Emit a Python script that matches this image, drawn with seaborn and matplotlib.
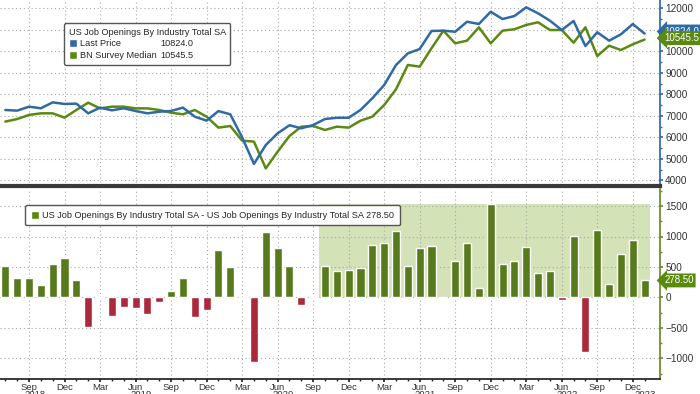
import numpy as np
import pandas as pd
import matplotlib
matplotlib.use("Agg")
import matplotlib.pyplot as plt
import seaborn as sns
from matplotlib.patches import Patch
from matplotlib.ticker import MultipleLocator

# monthly data, Jul 2018 .. Jan 2023
months = pd.date_range("2018-07-01", "2023-01-01", freq="MS")

last_price = [7270, 7240, 7425, 7350, 7625, 7550, 7565, 7115, 7380, 7255,
              7350, 7225, 7115, 7190, 7225, 7380, 6960, 6775, 7220, 7070,
              6000, 4760, 5640, 6185, 6560, 6420, 6570, 6850, 6910, 6910,
              7270, 7815, 8430, 9360, 9905, 10105, 10945, 10960, 10910, 11375,
              11270, 11840, 11500, 11640, 12045, 11765, 11425, 10990, 11410, 10245,
              10885, 10495, 10790, 11270, 10824.0]

survey_median = [6730, 6850, 7040, 7115, 7115, 6915, 7270, 7610, 7345, 7425,
                 7425, 7345, 7345, 7270, 7145, 7070, 7270, 6960, 6450, 6525,
                 5845, 5800, 4555, 5330, 6060, 6495, 6525, 6340, 6495, 6450,
                 6770, 6960, 7500, 8235, 9365, 9285, 10140, 10960, 10370, 10495,
                 11115, 10370, 10960, 11025, 11225, 11350, 10990, 10990, 10400, 11115,
                 9780, 10260, 10060, 10325, 10545.5]

surprise = [514, 312, 323, 208, 542, 646, 290, -482, -8, -306,
            -159, -181, -279, -77, 99, 312, -328, -213, 783, 493,
            6, -1062, 1078, 815, 514, -131, 20, 514, 427, 449,
            476, 859, 898, 1089, 514, 805, 843, 6, 591, 898,
            153, 1527, 542, 602, 832, 405, 438, -44, 1012, -898,
            1106, 219, 706, 936, 278.5]

shade_start = "2020-10-01"
shade_end = "2023-01-01"

series_name = "US Job Openings By Industry Total SA"

BLUE = "#2f6aa6"
GREEN = "#5b8a12"
BAR_GREEN = "#5a8a0c"
RED = "#c0142c"
SHADE = "#d3e2b7"
GRID = "#a8a8a8"
TXT = "#333333"
NARROW = ["Liberation Sans Narrow", "Liberation Sans", "DejaVu Sans"]

sns.set_theme(style="white")
plt.rcParams["font.family"] = ["Liberation Sans", "DejaVu Sans"]

idx = np.arange(len(months))
month_lab = months.strftime("%b")
qtr = [i for i, m in enumerate(months) if m.month in (3, 6, 9, 12)]

fig = plt.figure(figsize=(7, 3.94), dpi=100)
ax1 = fig.add_axes([0, 1 - 186 / 394, 660 / 700, 186 / 394])
ax2 = fig.add_axes([0, 15 / 394, 660 / 700, 190 / 394])

# ---- top panel: lines
sns.lineplot(x=idx, y=survey_median, ax=ax1, color=GREEN, lw=1.8)
sns.lineplot(x=idx, y=last_price, ax=ax1, color=BLUE, lw=1.8)
ax1.set_xlim(-0.45, len(idx) + 0.3)
ax1.set_ylim(3735, 12386)
ax1.yaxis.tick_right()
ax1.set_yticks(range(4000, 12001, 1000))
ax1.yaxis.set_minor_locator(MultipleLocator(500))
ax1.set_xticks(qtr)
ax1.tick_params(axis="x", length=0, labelbottom=False)
ax1.tick_params(axis="y", which="major", length=2.2, color=BLUE, labelsize=7.2, labelcolor=TXT, pad=1.5)
ax1.tick_params(axis="y", which="minor", length=1.2, color=BLUE, right=True)
for lab in ax1.get_yticklabels():
    lab.set_fontfamily(NARROW)
ax1.grid(True, color=GRID, linestyle=(0, (1, 2.5)), lw=0.8)
for s in ["left", "top"]:
    ax1.spines[s].set_visible(False)
ax1.spines["right"].set_color(BLUE)
ax1.spines["bottom"].set_color("#3a3a3a")
ax1.spines["bottom"].set_linewidth(3)
ax1.set_xlabel("")
ax1.set_ylabel("")

blank = Patch(fc="none", ec="none")
leg = ax1.legend(handles=[Patch(fc=BLUE), Patch(fc=GREEN), blank, blank],
                 labels=["Last Price", "BN Survey Median",
                         f"{last_price[-1]:.1f}", f"{survey_median[-1]:.1f}"],
                 ncol=2, title=series_name, loc="upper left",
                 bbox_to_anchor=(64 / 660, 1 - 23 / 186), borderaxespad=0,
                 fontsize=6.6, title_fontsize=6.6,
                 frameon=True, fancybox=True, edgecolor="#555555", framealpha=1,
                 handlelength=0.9, handleheight=0.9, handletextpad=0.4, columnspacing=-1.0,
                 borderpad=0.5, labelspacing=0.3, alignment="left")
leg.get_frame().set_linewidth(1.0)


def tag(ax, y, txt, color, dy):
    ax.annotate(txt, xy=(1.0, y), xycoords=("axes fraction", "data"), xytext=(3, dy),
                textcoords="offset points", ha="left", va="center", color="white",
                fontsize=7, fontfamily=NARROW,
                bbox=dict(boxstyle="larrow,pad=0.2", fc=color, ec="none"),
                annotation_clip=False, zorder=10)


tag(ax1, last_price[-1], f"{last_price[-1]:.1f}", BLUE, 1.5)
tag(ax1, survey_median[-1], f"{survey_median[-1]:.1f}", GREEN, 1)

# ---- bottom panel: surprise bars
df = pd.DataFrame({"i": idx, "diff": surprise})
df["sign"] = np.where(df["diff"] >= 0, "pos", "neg")
x0 = months.get_loc(pd.Timestamp(shade_start)) - 0.5
x1 = months.get_loc(pd.Timestamp(shade_end)) + 0.45
ax2.fill_between([x0, x1], 0, max(surprise), color=SHADE, lw=0, zorder=0.2)
sns.barplot(data=df, x="i", y="diff", hue="sign", palette={"pos": BAR_GREEN, "neg": RED},
            dodge=False, width=0.68, native_scale=True, legend=False, ax=ax2, zorder=2)
ax2.set_xlim(-0.45, len(idx) + 0.3)
ax2.set_ylim(-1340, 1780)
ax2.yaxis.tick_right()
ax2.set_yticks(range(-1000, 1501, 500))
ax2.yaxis.set_minor_locator(MultipleLocator(250))
ax2.set_xticks(qtr)
ax2.set_xticklabels([month_lab[i] for i in qtr])
ax2.set_xticks(idx, minor=True)
ax2.tick_params(axis="x", which="major", length=2.4, color="#222222", labelsize=6.8, labelcolor=TXT, pad=0.2, bottom=True)
ax2.tick_params(axis="x", which="minor", length=1.3, color="#222222", bottom=True)
ax2.tick_params(axis="y", which="major", length=2.2, color="#6b8a2a", labelsize=7.2, labelcolor=TXT, pad=1.5)
ax2.tick_params(axis="y", which="minor", length=1.2, color="#6b8a2a", right=True)
for lab in ax2.get_yticklabels():
    lab.set_fontfamily(NARROW)
ax2.grid(True, color=GRID, linestyle=(0, (1, 2.5)), lw=0.8)
ax2.set_axisbelow(True)
for s in ["left", "top"]:
    ax2.spines[s].set_visible(False)
ax2.spines["right"].set_color("#6b8a2a")
ax2.spines["bottom"].set_color("#222222")
ax2.set_xlabel("")
ax2.set_ylabel("")

years = sorted(set(months.year))
for y in years:
    pos = [i for i, m in enumerate(months) if m.year == y]
    xc = min(max(np.mean(pos), 2.25), len(idx) - 1)
    ax2.text(xc, -0.06, str(y), transform=ax2.get_xaxis_transform(), ha="center",
             va="top", fontsize=6.8, color=TXT)

leg2 = ax2.legend(handles=[Patch(fc=BAR_GREEN)],
                  labels=[f"{series_name} - {series_name} {surprise[-1]:.2f}"],
                  loc="upper left", bbox_to_anchor=(25 / 660, 1 - 16.5 / 190), borderaxespad=0,
                  fontsize=6.6, frameon=True, fancybox=True, edgecolor="#555555", framealpha=1,
                  handlelength=0.9, handleheight=0.9, handletextpad=0.4, borderpad=0.6)
leg2.get_frame().set_linewidth(1.0)
leg2.set_zorder(20)

tag(ax2, surprise[-1], f"{surprise[-1]:.2f}", BAR_GREEN, 0)

fig.savefig("out.png", dpi=100)
